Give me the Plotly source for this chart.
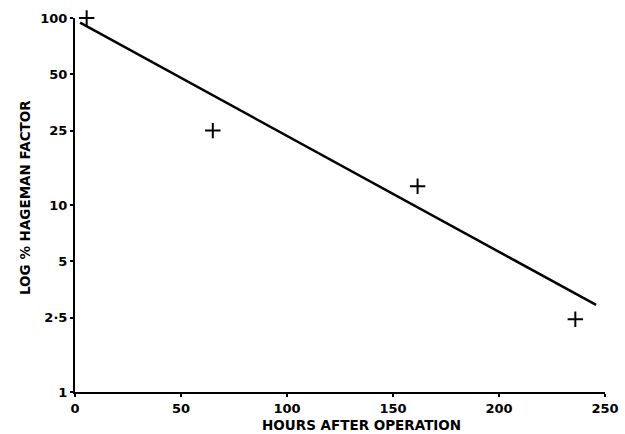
import plotly.graph_objects as go

# Data
hours = [5.5, 65, 161.6, 236]
hageman_pct = [100, 25, 12.6, 2.45]

# Fitted regression line endpoints
fit_hours = [2.4, 245.8]
fit_pct = [94.4, 2.92]

x_ticks = [0, 50, 100, 150, 200, 250]
y_ticks = [1, 2.5, 5, 10, 25, 50, 100]
y_ticktext = ["1", "2·5", "5", "10", "25", "50", "100"]

x_title = "HOURS AFTER OPERATION"
y_title = "LOG % HAGEMAN FACTOR"

font_family = "DejaVu Sans"
title_font = dict(family=font_family, size=13.5, weight="bold", color="black")

fig = go.Figure()
fig.add_trace(go.Scatter(
    x=fit_hours, y=fit_pct, mode="lines",
    line=dict(color="black", width=2.5),
    showlegend=False, hoverinfo="skip", cliponaxis=False,
))
fig.add_trace(go.Scatter(
    x=hours, y=hageman_pct, mode="markers",
    marker=dict(symbol="cross-thin", size=11, line=dict(color="black", width=2)),
    showlegend=False, cliponaxis=False,
))

fig.update_layout(
    width=625, height=434,
    margin=dict(l=75, r=20, t=18, b=42, autoexpand=False),
    paper_bgcolor="white", plot_bgcolor="white",
    font=dict(family=font_family, color="black", size=12),
    xaxis=dict(
        range=[0, 250], tickvals=x_ticks, automargin=False,
        showline=True, linecolor="black", linewidth=2,
        ticks="outside", ticklen=3, tickwidth=1.5, tickcolor="black",
        showgrid=False, zeroline=False,
        tickfont=dict(family=font_family, size=13, weight="bold"),
    ),
    yaxis=dict(
        type="log", range=[0, 2], tickvals=y_ticks, ticktext=y_ticktext,
        automargin=False,
        showline=True, linecolor="black", linewidth=2,
        ticks="outside", ticklen=3, tickwidth=1.5, tickcolor="black",
        showgrid=False, zeroline=False,
        tickfont=dict(family=font_family, size=13, weight="bold"),
    ),
    annotations=[
        dict(text=x_title, xref="paper", yref="paper",
             x=(361 - 75) / 530, y=-(425 - 392) / 374,
             xanchor="center", yanchor="middle", showarrow=False, font=title_font),
        dict(text=y_title, xref="paper", yref="paper",
             x=-(75 - 25) / 530, y=(392 - 198) / 374, textangle=-90,
             xanchor="center", yanchor="middle", showarrow=False, font=title_font),
    ],
)

fig.write_html(
    "out.html",
    config={"displayModeBar": False},
    post_script="document.body.style.margin='0';document.body.style.padding='0';",
)
